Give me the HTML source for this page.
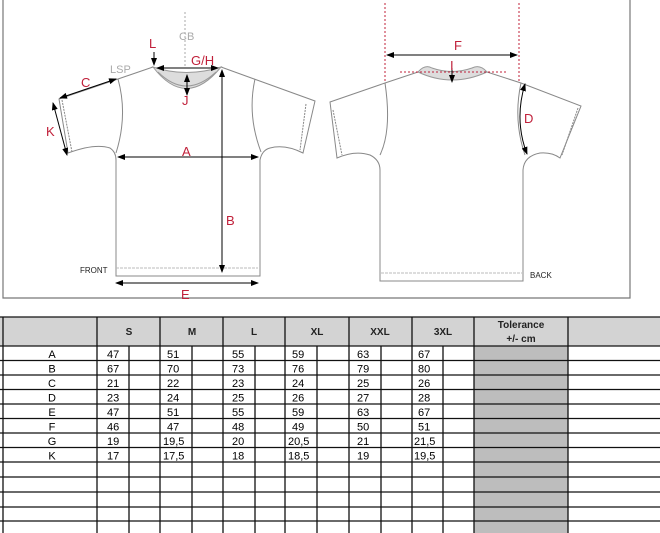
<!DOCTYPE html>
<html><head><meta charset="utf-8"><style>
html,body{margin:0;padding:0;background:#fff;}
svg{display:block;}
.r{font-family:"Liberation Sans",sans-serif;fill:#c0203a;font-size:13px;}
.t{font-family:"Liberation Sans",sans-serif;font-size:11px;fill:#000;}
.h{font-family:"Liberation Sans",sans-serif;font-size:10px;font-weight:bold;fill:#222;}
</style></head><body>
<svg width="660" height="533" viewBox="0 0 660 533" xmlns="http://www.w3.org/2000/svg">
<defs>
<marker id="ar" markerWidth="8" markerHeight="6" refX="7" refY="3" orient="auto-start-reverse" markerUnits="userSpaceOnUse"><path d="M0,0 L8,3 L0,6z" fill="#000"/></marker>
</defs>
<!-- frame -->
<path d="M3,0 V298 H630 V0" fill="none" stroke="#777" stroke-width="1.2"/>

<!-- FRONT shirt -->
<g fill="none" stroke="#888" stroke-width="1">
<path d="M153,67 L118,79 L59,99 L68,153 Q95,143 110,148 Q116,152 116,160 V276 H260 V160 Q262,150 270,148 Q285,144 303,153 L315,101 L221,67"/>
<path d="M118,79 Q128,115 116,153"/>
<path d="M255,79 Q247,115 261,152"/>
<path d="M62,100 L72,152 M306,104 L300,150" stroke-dasharray="2,1"/>
<path d="M116,268 H258" stroke="#bbb" stroke-dasharray="3,1"/>
<path d="M185,12 V67" stroke="#aaa" stroke-dasharray="2,2"/>
</g>
<g stroke="#999" fill="#ddd" stroke-width="1">
<path d="M153,67 Q186,110 221,67 Q186,78 153,67z"/>
<path d="M158,72 Q186,100 216,72" fill="none"/>
</g>
<g stroke="#000" stroke-width="1" fill="none">
<line x1="118" y1="157" x2="258" y2="157" marker-start="url(#ar)" marker-end="url(#ar)"/>
<line x1="222" y1="70" x2="222" y2="272" marker-start="url(#ar)" marker-end="url(#ar)"/>
<line x1="116" y1="283" x2="258" y2="283" marker-start="url(#ar)" marker-end="url(#ar)"/>
<line x1="60" y1="98" x2="116" y2="79" marker-start="url(#ar)" marker-end="url(#ar)"/>
<line x1="53" y1="103" x2="67" y2="155" marker-start="url(#ar)" marker-end="url(#ar)"/>
<line x1="157" y1="68" x2="218" y2="68" marker-start="url(#ar)" marker-end="url(#ar)"/>
<line x1="187" y1="75" x2="187" y2="95" marker-start="url(#ar)" marker-end="url(#ar)"/>
<line x1="154" y1="52" x2="154" y2="65" marker-end="url(#ar)"/>
</g>
<text class="r" x="182" y="156">A</text>
<text class="r" x="226" y="225">B</text>
<text class="r" x="81" y="87">C</text>
<text class="r" x="181" y="299">E</text>
<text class="r" x="46" y="136">K</text>
<text class="r" x="149" y="48">L</text>
<text class="r" x="191" y="65">G/H</text>
<text class="r" x="182" y="105">J</text>
<text x="179" y="40" font-family="Liberation Sans,sans-serif" font-size="11" fill="#aaa">CB</text>
<text x="110" y="73" font-family="Liberation Sans,sans-serif" font-size="11" fill="#aaa">LSP</text>
<text x="80" y="273" font-family="Liberation Sans,sans-serif" font-size="8" fill="#222">FRONT</text>

<!-- BACK shirt -->
<g fill="none" stroke="#888" stroke-width="1">
<path d="M418,72 L385,83 L330,102 L337,158 Q355,150 370,155 Q380,160 380,170 V281 H523 V170 Q524,156 540,153 Q552,152 560,158 L581,106 L521,83 L487,72"/>
<path d="M385,83 Q392,130 380,155"/>
<path d="M521,83 Q513,120 525,155"/>
<path d="M333,110 L342,155 M578,108 L562,155" stroke-dasharray="2,1"/>
<path d="M381,273 H522" stroke="#bbb" stroke-dasharray="3,1"/>
</g>
<path d="M418,72 Q425,64 432,68 Q452,75 472,68 Q480,64 487,72 Q452,88 418,72z" fill="#ddd" stroke="#999"/>
<g stroke="#c0203a" stroke-width="1" stroke-dasharray="2,2" fill="none">
<line x1="385" y1="3" x2="385" y2="82"/>
<line x1="519" y1="3" x2="519" y2="82"/>
<line x1="400" y1="72" x2="506" y2="72"/>
</g>
<g stroke="#000" stroke-width="1" fill="none">
<line x1="387" y1="55" x2="517" y2="55" marker-start="url(#ar)" marker-end="url(#ar)"/>
<line x1="452" y1="68" x2="452" y2="82" marker-end="url(#ar)"/>
<path d="M525,84 Q514,120 527,154" marker-start="url(#ar)" marker-end="url(#ar)"/>
</g>
<text class="r" x="454" y="50">F</text>
<text class="r" x="450" y="70" font-size="11">I</text>
<text class="r" x="524" y="123">D</text>
<text x="530" y="278" font-family="Liberation Sans,sans-serif" font-size="8" fill="#222">BACK</text>

<!-- TABLE -->
<rect x="0" y="317" width="660" height="29" fill="#d3d3d3"/>
<rect x="474" y="346" width="94" height="187" fill="#bdbdbd"/>
<g stroke="#111" stroke-width="1.3">
<line x1="0" y1="317" x2="660" y2="317"/>
<line x1="0" y1="346" x2="660" y2="346"/>
<line x1="0" y1="360.5" x2="660" y2="360.5"/>
<line x1="0" y1="375" x2="660" y2="375"/>
<line x1="0" y1="389.5" x2="660" y2="389.5"/>
<line x1="0" y1="404" x2="660" y2="404"/>
<line x1="0" y1="418.5" x2="660" y2="418.5"/>
<line x1="0" y1="433" x2="660" y2="433"/>
<line x1="0" y1="447.5" x2="660" y2="447.5"/>
<line x1="0" y1="462" x2="660" y2="462"/>
<line x1="0" y1="477" x2="660" y2="477"/>
<line x1="0" y1="492" x2="660" y2="492"/>
<line x1="0" y1="507" x2="660" y2="507"/>
<line x1="0" y1="521" x2="660" y2="521"/>
<line x1="3" y1="317" x2="3" y2="533"/>
<line x1="97" y1="317" x2="97" y2="533"/>
<line x1="160" y1="317" x2="160" y2="533"/>
<line x1="223" y1="317" x2="223" y2="533"/>
<line x1="285" y1="317" x2="285" y2="533"/>
<line x1="349" y1="317" x2="349" y2="533"/>
<line x1="412" y1="317" x2="412" y2="533"/>
<line x1="474" y1="317" x2="474" y2="533"/>
<line x1="568" y1="317" x2="568" y2="533"/>
<line x1="129" y1="346" x2="129" y2="533"/>
<line x1="192" y1="346" x2="192" y2="533"/>
<line x1="255" y1="346" x2="255" y2="533"/>
<line x1="317" y1="346" x2="317" y2="533"/>
<line x1="381" y1="346" x2="381" y2="533"/>
<line x1="443" y1="346" x2="443" y2="533"/>
</g>
<g class="h" text-anchor="middle">
<text class="h" x="129" y="335">S</text>
<text class="h" x="192" y="335">M</text>
<text class="h" x="254" y="335">L</text>
<text class="h" x="317" y="335">XL</text>
<text class="h" x="380" y="335">XXL</text>
<text class="h" x="443" y="335">3XL</text>
<text class="h" x="521" y="328">Tolerance</text>
<text class="h" x="521" y="342">+/- cm</text>
</g>
<g class="t" text-anchor="middle">
<text x="52" y="358">A</text><text x="52" y="372.5">B</text><text x="52" y="387">C</text><text x="52" y="401.5">D</text>
<text x="52" y="416">E</text><text x="52" y="430.5">F</text><text x="52" y="445">G</text><text x="52" y="459.5">K</text>
</g>
<g class="t">
<text x="107" y="358">47</text><text x="167" y="358">51</text><text x="232" y="358">55</text><text x="292" y="358">59</text><text x="357" y="358">63</text><text x="418" y="358">67</text>
<text x="107" y="372.5">67</text><text x="167" y="372.5">70</text><text x="232" y="372.5">73</text><text x="292" y="372.5">76</text><text x="357" y="372.5">79</text><text x="418" y="372.5">80</text>
<text x="107" y="387">21</text><text x="167" y="387">22</text><text x="232" y="387">23</text><text x="292" y="387">24</text><text x="357" y="387">25</text><text x="418" y="387">26</text>
<text x="107" y="401.5">23</text><text x="167" y="401.5">24</text><text x="232" y="401.5">25</text><text x="292" y="401.5">26</text><text x="357" y="401.5">27</text><text x="418" y="401.5">28</text>
<text x="107" y="416">47</text><text x="167" y="416">51</text><text x="232" y="416">55</text><text x="292" y="416">59</text><text x="357" y="416">63</text><text x="418" y="416">67</text>
<text x="107" y="430.5">46</text><text x="167" y="430.5">47</text><text x="232" y="430.5">48</text><text x="292" y="430.5">49</text><text x="357" y="430.5">50</text><text x="418" y="430.5">51</text>
<text x="107" y="445">19</text><text x="163" y="445">19,5</text><text x="232" y="445">20</text><text x="288" y="445">20,5</text><text x="357" y="445">21</text><text x="414" y="445">21,5</text>
<text x="107" y="459.5">17</text><text x="163" y="459.5">17,5</text><text x="232" y="459.5">18</text><text x="288" y="459.5">18,5</text><text x="357" y="459.5">19</text><text x="414" y="459.5">19,5</text>
</g>
</svg>
</body></html>
